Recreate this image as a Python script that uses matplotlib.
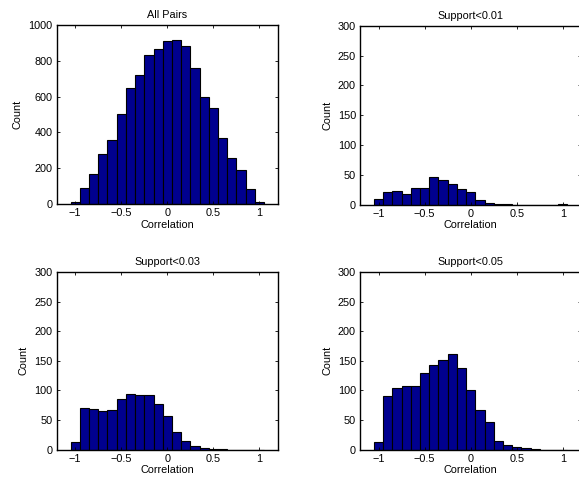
import numpy as np
import matplotlib
matplotlib.use("Agg")
import matplotlib.pyplot as plt

# bin centres used by hist, -1:0.1:1
centers = np.round(np.arange(-1.0, 1.0001, 0.1), 2)

all_pairs = [13, 92, 170, 279, 360, 502, 648, 719, 831, 865, 908,
             914, 882, 758, 599, 534, 371, 258, 191, 84, 11]
support_01 = [10, 21, 23, 18, 28, 28, 46, 41, 34, 26, 21,
              8, 3, 1, 1, 0, 0, 0, 0, 0, 1]
support_03 = [13, 71, 68, 66, 67, 85, 94, 93, 93, 77, 56,
              29, 14, 6, 3, 1, 0.5, 0, 0, 0, 0]
support_05 = [13, 91, 104, 107, 108, 129, 143, 152, 162, 138, 100,
              67, 46, 15, 8, 4, 2, 1, 0, 0, 0]

titles = ["All Pairs", "Support<0.01", "Support<0.03", "Support<0.05"]
counts = [all_pairs, support_01, support_03, support_05]
ylims = [1000, 300, 300, 300]
yticks = [np.arange(0, 1001, 200), np.arange(0, 301, 50),
          np.arange(0, 301, 50), np.arange(0, 301, 50)]

plt.rcParams['font.family'] = ['Liberation Sans', 'DejaVu Sans']
plt.rcParams['font.size'] = 7.8

fig = plt.figure(figsize=(5.79, 4.87), dpi=100)
# axes boxes in figure fractions (left, bottom, width, height)
boxes = [(0.098, 0.581, 0.382, 0.368),
         (0.622, 0.580, 0.382, 0.367),
         (0.098, 0.077, 0.382, 0.364),
         (0.622, 0.077, 0.382, 0.364)]

for box, title, cnt, ymax, yt in zip(boxes, titles, counts, ylims, yticks):
    ax = fig.add_axes(box)
    ax.bar(centers, cnt, width=0.1, color='#00008F', edgecolor='black',
           linewidth=0.8)
    ax.set_xlim(-1.2, 1.2)
    ax.set_ylim(0, ymax)
    ax.set_xticks([-1, -0.5, 0, 0.5, 1])
    ax.set_xticklabels(['\u22121', '\u22120.5', '0', '0.5', '1'])
    ax.set_yticks(yt)
    ax.tick_params(direction='in', top=True, right=True, length=2.5,
                   width=0.6, pad=3)
    for s in ax.spines.values():
        s.set_linewidth(1.0)
    ax.set_title(title, fontsize=7.8, pad=5)
    ax.set_xlabel('Correlation', labelpad=1)
    ax.set_ylabel('Count', labelpad=4)

fig.savefig('out.png', dpi=100)
